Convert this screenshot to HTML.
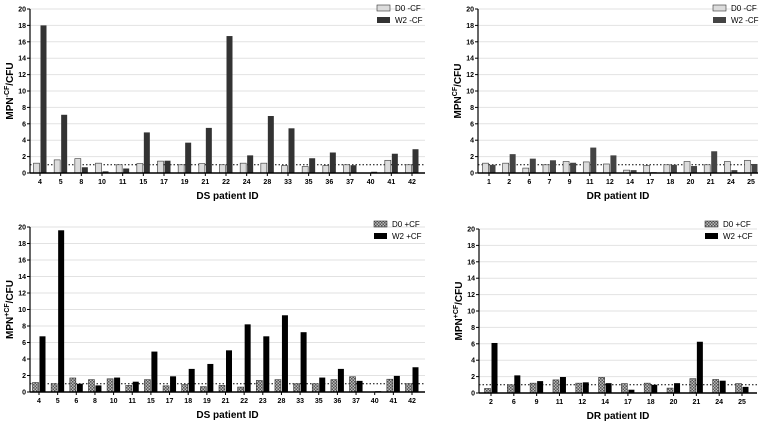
<!DOCTYPE html>
<html><head><meta charset="utf-8"><style>
body{margin:0;background:#fff;}
svg{display:block;font-family:"Liberation Sans",Arial,sans-serif;}
</style></head><body>
<svg id="c" width="760" height="423" viewBox="0 0 760 423" xmlns="http://www.w3.org/2000/svg">
<defs><pattern id="hatch" width="3" height="3" patternUnits="userSpaceOnUse"><rect width="3" height="3" fill="#bbb"/><rect width="1.5" height="1.5" fill="#555"/><rect x="1.5" y="1.5" width="1.5" height="1.5" fill="#555"/></pattern></defs>
</svg>
<script>
const catsA=["4","5","8","10","11","15","17","19","21","22","24","28","33","35","36","37","40","41","42"];
const d0A=[1.2,1.6,1.75,1.2,1.0,1.15,1.45,1.0,1.15,1.0,1.2,1.2,0.9,0.8,0.9,1.0,0,1.55,1.0];
const w2A=[18,7.1,0.7,0.2,0.55,4.95,1.5,3.7,5.5,16.7,2.15,6.95,5.45,1.8,2.5,0.95,0.15,2.35,2.9];
const catsB=["1","2","6","7","9","11","12","14","17","18","20","21","24","25"];
const d0B=[1.2,1.2,0.6,1.0,1.4,1.35,1.1,0.35,0.9,1.0,1.4,1.0,1.4,1.55];
const w2B=[1.0,2.3,1.75,1.55,1.25,3.1,2.15,0.35,0.1,1.0,0.85,2.65,0.35,1.1];
const catsC=["4","5","6","8","10","11","15","17","18","19","21","22","23","28","33","35","36","37","40","41","42"];
const d0C=[1.15,1.0,1.7,1.5,1.6,0.8,1.5,0.75,0.9,0.65,0.8,0.6,1.4,1.5,1.0,1.0,1.5,1.85,0,1.55,1.0];
const w2C=[6.75,19.6,1.0,0.8,1.75,1.25,4.9,1.9,2.8,3.4,5.05,8.2,6.75,9.3,7.25,1.75,2.8,1.35,0.1,1.95,3.0];
const catsD=["2","6","9","11","12","14","17","18","20","21","24","25"];
const d0D=[0.55,1.0,1.2,1.6,1.2,1.9,1.15,1.2,0.6,1.75,1.65,1.15];
const w2D=[6.1,2.15,1.45,1.95,1.3,1.2,0.4,1.0,1.2,6.25,1.5,0.75];
const yTicks=[0,2,4,6,8,10,12,14,16,18,20];
const NS="http://www.w3.org/2000/svg",svg=document.getElementById('c');
function mk(t,a,p){const e=document.createElementNS(NS,t);for(const k in a)e.setAttribute(k,a[k]);(p||svg).appendChild(e);return e;}
function panel(o){
 const g=mk('g',{});
 
 
 const y=v=>o.y0-(v/20)*(o.y0-o.y20);
 const x=i=>o.c0+i*(o.c1-o.c0)/(o.cats.length-1);
 yTicks.forEach(t=>{
  if(t>0){const l=mk('line',{x1:o.ax,x2:o.xr,y1:y(t),y2:y(t),stroke:'#e2e2e2','stroke-width':1},g);
  }
  mk('line',{x1:o.ax-3,x2:o.ax,y1:y(t),y2:y(t),stroke:'#000','stroke-width':1},g);
  const tx=mk('text',{x:o.ax-4,y:y(t)+2.5,'font-size':7,'font-weight':'bold','text-anchor':'end'},g);
  tx.textContent=t;
  
 });
 const dl=mk('line',{x1:o.ax,x2:o.xr,y1:y(1),y2:y(1),stroke:'#000','stroke-width':1,'stroke-dasharray':'1.5,2'},g);
 
 const bw=o.bw;
 o.cats.forEach((c,i)=>{
  const cx=x(i);
  const b1=mk('rect',{x:cx-bw-0.5,y:y(o.d0[i]),width:bw,height:y(0)-y(o.d0[i]),fill:o.f1,stroke:'#333','stroke-width':0.6},g);
  
  const b2=mk('rect',{x:cx+0.5,y:y(o.w2[i]),width:bw,height:y(0)-y(o.w2[i]),fill:o.f2},g);
  
  mk('line',{x1:cx,x2:cx,y1:o.y0,y2:o.y0+3,stroke:'#000'},g);
  const tl=mk('text',{x:cx,y:o.y0+11,'font-size':7,'font-weight':'bold','text-anchor':'middle'},g);
  tl.textContent=c;
  
 });
 mk('line',{x1:o.ax,x2:o.ax,y1:o.y20,y2:o.y0,stroke:'#000','stroke-width':1.2},g);
 mk('line',{x1:o.ax,x2:o.xr,y1:o.y0,y2:o.y0,stroke:'#000','stroke-width':1.5},g);
 const xt=mk('text',{x:(o.ax+o.xr)/2,y:o.y0+26,'font-size':10,'font-weight':'bold','text-anchor':'middle'},g);
 xt.textContent=o.xtitle;
 
 const yt=mk('text',{transform:`translate(${o.ax-17},${(o.y0+o.y20)/2}) rotate(-90)`,'font-size':10,'font-weight':'bold','text-anchor':'middle'},g);
 yt.innerHTML='MPN<tspan dy="-4" font-size="7">'+o.sup+'</tspan><tspan dy="4">/CFU</tspan>';
 
 [[o.f1,o.l1],[o.f2,o.l2]].forEach((L,k)=>{
  const lg=mk('g',{},g);
  
  mk('rect',{x:o.lx,y:o.ly+k*12,width:13,height:6,fill:L[0],stroke:k?'none':'#333','stroke-width':0.6},lg);
  const t=mk('text',{x:o.lx+18,y:o.ly+k*12+6,'font-size':8},lg);t.textContent=L[1];
 });
}
panel({name:'ds-minus-cf-chart',cats:catsA,d0:d0A,w2:w2A,ax:30,xr:425,y0:173,y20:9,c0:40,c1:412,bw:6,f1:'#dcdcdc',f2:'#333',l1:'D0 -CF',l2:'W2 -CF',lx:377,ly:5,xtitle:'DS patient ID',sup:'-CF'});
panel({name:'dr-minus-cf-chart',cats:catsB,d0:d0B,w2:w2B,ax:478,xr:758,y0:173,y20:9,c0:489,c1:751,bw:6,f1:'#dcdcdc',f2:'#444',l1:'D0 -CF',l2:'W2 -CF',lx:713,ly:5,xtitle:'DR patient ID',sup:'CF'});
panel({name:'ds-plus-cf-chart',cats:catsC,d0:d0C,w2:w2C,ax:30,xr:425,y0:392,y20:227,c0:39,c1:412,bw:6,f1:'url(#hatch)',f2:'#000',l1:'D0 +CF',l2:'W2 +CF',lx:374,ly:221,xtitle:'DS patient ID',sup:'+CF'});
panel({name:'dr-plus-cf-chart',cats:catsD,d0:d0D,w2:w2D,ax:479,xr:757,y0:393,y20:229,c0:491,c1:742,bw:6,f1:'url(#hatch)',f2:'#000',l1:'D0 +CF',l2:'W2 +CF',lx:705,ly:221,xtitle:'DR patient ID',sup:'+CF'});
</script>
</body></html>
